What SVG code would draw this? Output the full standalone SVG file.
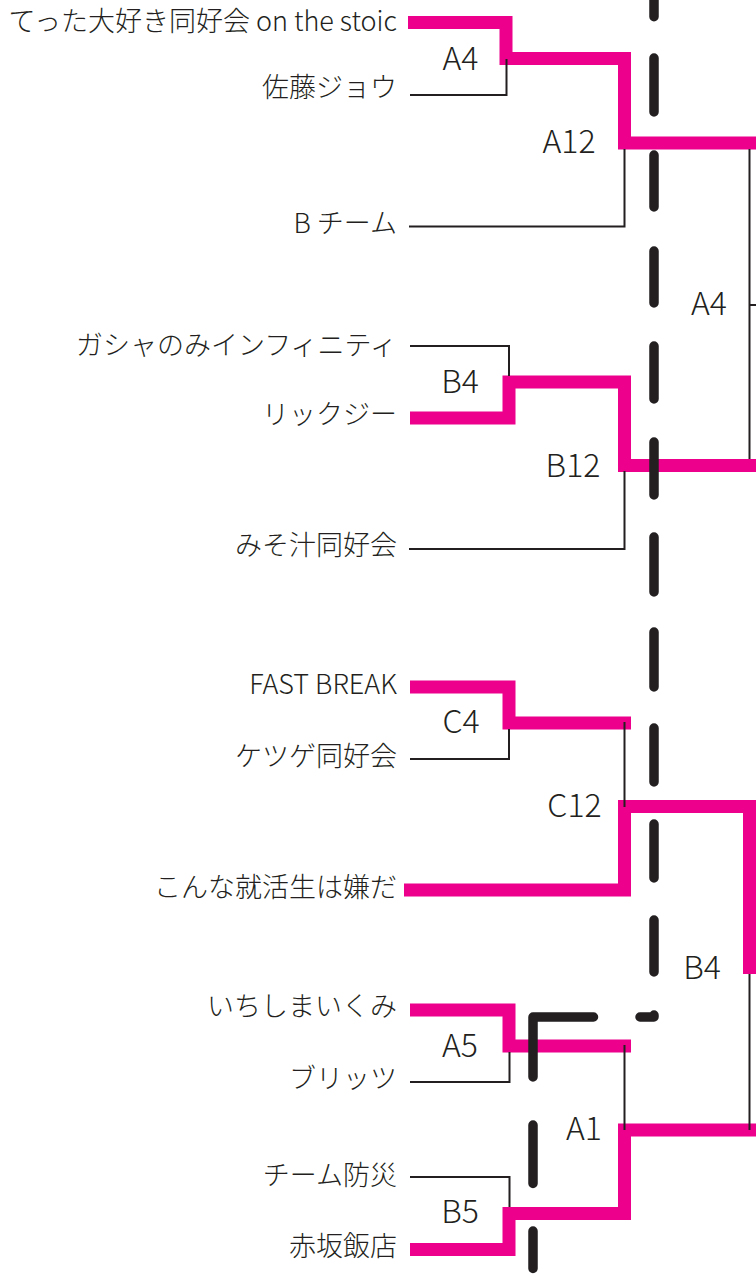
<svg xmlns="http://www.w3.org/2000/svg" width="756" height="1275" viewBox="0 0 756 1275">
<style>
.name{font-family:"Noto Sans CJK JP","Noto Sans",sans-serif;font-size:27px;font-weight:300;fill:#231f20;text-anchor:end}
.lbl{font-family:"Noto Sans CJK JP","Noto Sans",sans-serif;font-size:32px;font-weight:300;fill:#231f20;text-anchor:middle}
.win{fill:none;stroke:#ec008c;stroke-width:13;stroke-linejoin:miter;stroke-linecap:butt}
.thin{fill:none;stroke:#231f20;stroke-width:2}
.dash{fill:none;stroke:#231f20;stroke-width:9.5;stroke-linecap:round;stroke-linejoin:round}
</style>
<rect width="756" height="1275" fill="#ffffff"/>
<g id="teams">
<g id="team-tetta"><text class="name" x="397" y="31">てった大好き同好会 on the stoic</text></g>
<g id="team-sato"><text class="name" x="397" y="96.5">佐藤ジョウ</text></g>
<g id="team-bteam"><text class="name" x="397" y="233">B チーム</text></g>
<g id="team-gacha"><text class="name" x="397" y="355">ガシャのみインフィニティ</text></g>
<g id="team-rickzy"><text class="name" x="397" y="424">リックジー</text></g>
<g id="team-misoshiru"><text class="name" x="397" y="555">みそ汁同好会</text></g>
<g id="team-fastbreak"><text class="name" x="397" y="694">FAST BREAK</text></g>
<g id="team-ketsuge"><text class="name" x="397" y="766">ケツゲ同好会</text></g>
<g id="team-konna"><text class="name" x="397" y="897">こんな就活生は嫌だ</text></g>
<g id="team-ichishima"><text class="name" x="397" y="1016">いちしまいくみ</text></g>
<g id="team-blitz"><text class="name" x="397" y="1088">ブリッツ</text></g>
<g id="team-bousai"><text class="name" x="397" y="1185">チーム防災</text></g>
<g id="team-akasaka"><text class="name" x="397" y="1256">赤坂飯店</text></g>
</g>
<g id="matches">
<g id="m-A4"><text class="lbl" x="460.5" y="70">A4</text></g>
<g id="m-A12"><text class="lbl" x="569" y="153">A12</text></g>
<g id="m-A4-r"><text class="lbl" x="709" y="315">A4</text></g>
<g id="m-B4"><text class="lbl" x="460" y="393">B4</text></g>
<g id="m-B12"><text class="lbl" x="573" y="477">B12</text></g>
<g id="m-C4"><text class="lbl" x="461" y="733">C4</text></g>
<g id="m-C12"><text class="lbl" x="574.5" y="817">C12</text></g>
<g id="m-B4-r"><text class="lbl" x="702" y="979">B4</text></g>
<g id="m-A5"><text class="lbl" x="460" y="1057">A5</text></g>
<g id="m-A1"><text class="lbl" x="584" y="1140">A1</text></g>
<g id="m-B5"><text class="lbl" x="460" y="1223">B5</text></g>
</g>
<g id="connectors">
<path class="win" d="M408,22.5 H506 V58.5 H624.5 V143 H756"/>
<path class="win" d="M410,418 H509 V382 H624.5 V465.5 H756"/>
<path class="win" d="M410,687 H509 V723 H631"/>
<path class="win" d="M404,890 H624.5 V806.5 H749.5 V974"/>
<path class="win" d="M410,1010 H509 V1046 H631"/>
<path class="win" d="M410,1249.5 H509 V1213.5 H624.5 V1130 H756"/>
<path class="thin" d="M410,95 H506.5 V59"/>
<path class="thin" d="M409,226.5 H624.5 V149"/>
<path class="thin" d="M749.5,149 V459 M749.5,305 H756"/>
<path class="thin" d="M410,346 H509 V376"/>
<path class="thin" d="M409,549 H624.5 V471"/>
<path class="thin" d="M410,759 H509 V729"/>
<path class="thin" d="M624.5,722 V807"/>
<path class="thin" d="M410,1082 H509.5 V1052"/>
<path class="thin" d="M624.5,1045 V1130"/>
<path class="thin" d="M410,1177 H509.5 V1207"/>
<path class="thin" d="M749.5,974 V1130"/>
</g>
<g id="divider">
<path class="dash" d="M654,-20 V16.7 M654,58 V112 M654,155 V207 M654,251 V303 M654,346 V399 M654,442 V495 M654,537 V592 M654,632 V687 M654,728 V782 M654,824 V878 M654,920 V972"/>
<path class="dash" d="M654,1015 V1017 H640"/>
<path class="dash" d="M593.5,1017 H533 V1077"/>
<path class="dash" d="M533,1125 V1183.5 M533,1231 V1268.5"/>
</g>
</svg>
